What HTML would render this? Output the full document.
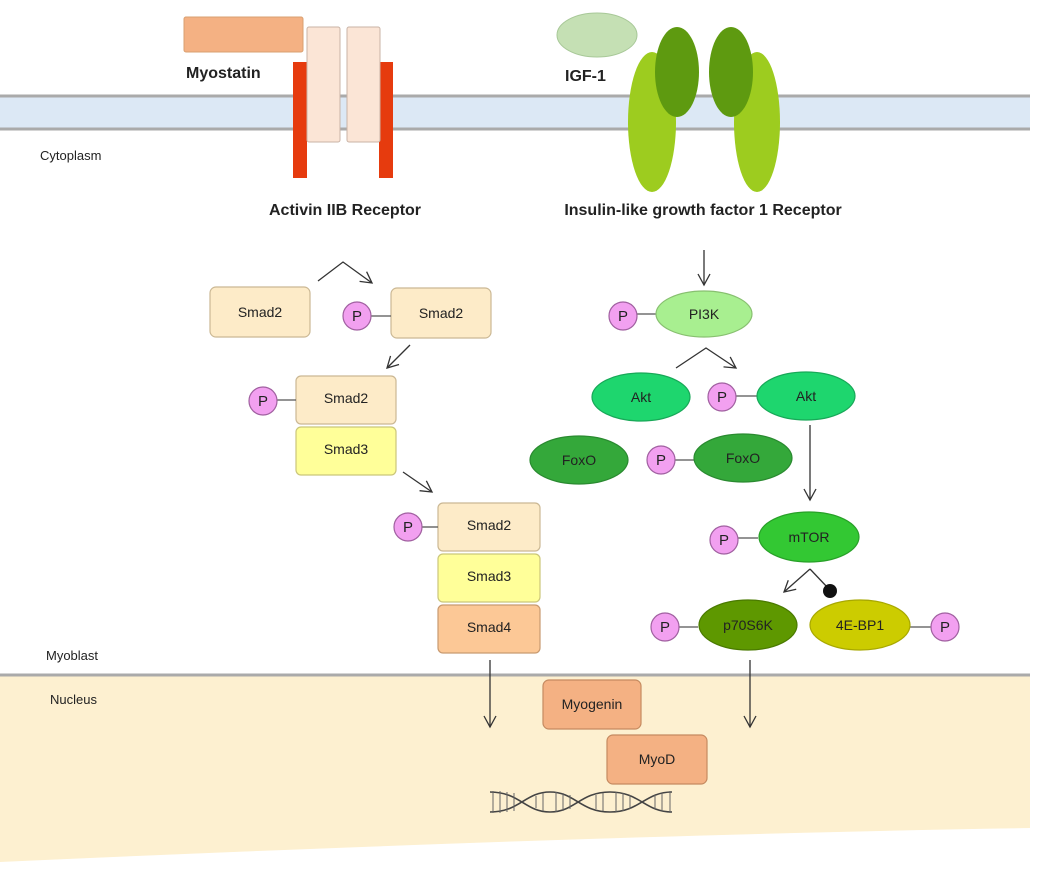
<!DOCTYPE html>
<html><head><meta charset="utf-8"><style>
html,body{margin:0;padding:0;background:#fff}
svg{display:block;font-family:"Liberation Sans",Arial,sans-serif}
</style></head><body>
<svg width="1045" height="878" viewBox="0 0 1045 878" xmlns="http://www.w3.org/2000/svg">
<defs>
<marker id="ah" markerWidth="14" markerHeight="14" refX="12" refY="7" orient="auto" markerUnits="userSpaceOnUse">
<path d="M1,1 L12,7 L1,13" fill="none" stroke="#333" stroke-width="1.3"/></marker>
</defs>
<!-- nucleus -->
<path d="M0,675 L1030,675 L1030,828 Q600,835 0,862 Z" fill="#fdf0d0"/>
<line x1="0" y1="675" x2="1030" y2="675" stroke="#aaa" stroke-width="3"/>
<!-- membrane -->
<rect x="0" y="96" width="1030" height="33" fill="#dce8f5"/>
<line x1="0" y1="96" x2="1030" y2="96" stroke="#aaa" stroke-width="3"/>
<line x1="0" y1="129" x2="1030" y2="129" stroke="#aaa" stroke-width="3"/>
<text x="40" y="160" font-size="13" fill="#222">Cytoplasm</text>
<text x="46" y="660" font-size="13" fill="#222">Myoblast</text>
<text x="50" y="704" font-size="13" fill="#222">Nucleus</text>
<!-- myostatin -->
<rect x="184" y="17" width="119" height="35" rx="2" fill="#f4b183" stroke="#d9a070"/>
<text x="186" y="78" font-size="16" font-weight="bold" fill="#222">Myostatin</text>
<rect x="293" y="62" width="14" height="116" fill="#e63b0e"/>
<rect x="379" y="62" width="14" height="116" fill="#e63b0e"/>
<rect x="307" y="27" width="33" height="115" rx="2" fill="#fbe5d6" stroke="#c9b3a6"/>
<rect x="347" y="27" width="33" height="115" rx="2" fill="#fbe5d6" stroke="#c9b3a6"/>
<text x="345" y="215" font-size="16" font-weight="bold" fill="#222" text-anchor="middle">Activin IIB Receptor</text>
<!-- IGF -->
<ellipse cx="597" cy="35" rx="40" ry="22" fill="#c5e0b4" stroke="#a8c898"/>
<text x="565" y="81" font-size="16" font-weight="bold" fill="#222">IGF-1</text>
<ellipse cx="652" cy="122" rx="24" ry="70" fill="#9dcc1f"/>
<ellipse cx="757" cy="122" rx="23" ry="70" fill="#9dcc1f"/>
<ellipse cx="677" cy="72" rx="22" ry="45" fill="#5e9a10"/>
<ellipse cx="731" cy="72" rx="22" ry="45" fill="#5e9a10"/>
<text x="703" y="215" font-size="16" font-weight="bold" fill="#222" text-anchor="middle">Insulin-like growth factor 1 Receptor</text>
<!-- smad path -->
<g stroke="#333" stroke-width="1.3" fill="none">
<polyline points="318,281 343,262 372,283" marker-end="url(#ah)"/>
<line x1="410" y1="345" x2="387" y2="368" marker-end="url(#ah)"/>
<line x1="403" y1="472" x2="432" y2="492" marker-end="url(#ah)"/>
<line x1="490" y1="660" x2="490" y2="727" marker-end="url(#ah)"/>
<line x1="750" y1="660" x2="750" y2="727" marker-end="url(#ah)"/>
<line x1="704" y1="250" x2="704" y2="285" marker-end="url(#ah)"/>
<polyline points="676,368 706,348 736,368" marker-end="url(#ah)"/>
<line x1="810" y1="425" x2="810" y2="500" marker-end="url(#ah)"/>
<polyline points="810,569 784,592" marker-end="url(#ah)"/>
<line x1="810" y1="569" x2="828" y2="588"/>
</g>
<circle cx="830" cy="591" r="7" fill="#111"/>
<g font-size="14" fill="#222" text-anchor="middle" stroke-width="1.2">
<rect x="210" y="287" width="100" height="50" rx="6" fill="#fdebc8" stroke="#cbb894"/><text x="260" y="317">Smad2</text>
<rect x="391" y="288" width="100" height="50" rx="6" fill="#fdebc8" stroke="#cbb894"/><text x="441" y="318">Smad2</text>
<rect x="296" y="376" width="100" height="48" rx="5" fill="#fdebc8" stroke="#cbb894"/><text x="346" y="403">Smad2</text>
<rect x="296" y="427" width="100" height="48" rx="5" fill="#ffff99" stroke="#cbc67a"/><text x="346" y="454">Smad3</text>
<rect x="438" y="503" width="102" height="48" rx="5" fill="#fdebc8" stroke="#cbb894"/><text x="489" y="530">Smad2</text>
<rect x="438" y="554" width="102" height="48" rx="5" fill="#ffff99" stroke="#cbc67a"/><text x="489" y="581">Smad3</text>
<rect x="438" y="605" width="102" height="48" rx="5" fill="#fcc896" stroke="#c89a70"/><text x="489" y="632">Smad4</text>
<rect x="543" y="680" width="98" height="49" rx="6" fill="#f4b183" stroke="#c58a60"/><text x="592" y="709">Myogenin</text>
<rect x="607" y="735" width="100" height="49" rx="6" fill="#f4b183" stroke="#c58a60"/><text x="657" y="764">MyoD</text>
</g>
<!-- P circles -->
<g stroke="#555" stroke-width="1.3">
<line x1="371" y1="316" x2="391" y2="316"/><line x1="277" y1="400" x2="296" y2="400"/><line x1="422" y1="527" x2="438" y2="527"/>
<line x1="637" y1="314" x2="656" y2="314"/><line x1="736" y1="396" x2="757" y2="396"/><line x1="675" y1="460" x2="694" y2="460"/>
<line x1="738" y1="538" x2="758" y2="538"/><line x1="679" y1="627" x2="698" y2="627"/><line x1="910" y1="627" x2="932" y2="627"/>
</g>
<g fill="#f2a0f0" stroke="#a060a0" stroke-width="1.2">
<circle cx="357" cy="316" r="14"/><circle cx="263" cy="401" r="14"/><circle cx="408" cy="527" r="14"/>
<circle cx="623" cy="316" r="14"/><circle cx="722" cy="397" r="14"/><circle cx="661" cy="460" r="14"/>
<circle cx="724" cy="540" r="14"/><circle cx="665" cy="627" r="14"/><circle cx="945" cy="627" r="14"/>
</g>
<g font-size="15" fill="#222" text-anchor="middle">
<text x="357" y="321">P</text><text x="263" y="406">P</text><text x="408" y="532">P</text>
<text x="623" y="321">P</text><text x="722" y="402">P</text><text x="661" y="465">P</text>
<text x="724" y="545">P</text><text x="665" y="632">P</text><text x="945" y="632">P</text>
</g>
<!-- ellipses -->
<g stroke-width="1.2">
<ellipse cx="704" cy="314" rx="48" ry="23" fill="#a8ef90" stroke="#88c070"/>
<ellipse cx="641" cy="397" rx="49" ry="24" fill="#1ed66e" stroke="#18a858"/>
<ellipse cx="806" cy="396" rx="49" ry="24" fill="#1ed66e" stroke="#18a858"/>
<ellipse cx="579" cy="460" rx="49" ry="24" fill="#34a83a" stroke="#2a8a30"/>
<ellipse cx="743" cy="458" rx="49" ry="24" fill="#34a83a" stroke="#2a8a30"/>
<ellipse cx="809" cy="537" rx="50" ry="25" fill="#33c833" stroke="#28a028"/>
<ellipse cx="748" cy="625" rx="49" ry="25" fill="#5e9800" stroke="#4a7a00"/>
<ellipse cx="860" cy="625" rx="50" ry="25" fill="#cccc00" stroke="#a8a800"/>
</g>
<g font-size="14" fill="#222" text-anchor="middle">
<text x="704" y="319">PI3K</text><text x="641" y="402">Akt</text><text x="806" y="401">Akt</text>
<text x="579" y="465">FoxO</text><text x="743" y="463">FoxO</text><text x="809" y="542">mTOR</text>
<text x="748" y="630">p70S6K</text><text x="860" y="630">4E-BP1</text>
</g>
<!-- DNA -->
<g stroke="#444" stroke-width="1.6" fill="none">
<path d="M490,792 C520,792 525,812 550,812 C575,812 580,792 610,792 C640,792 645,812 672,812"/>
<path d="M490,812 C520,812 525,792 550,792 C575,792 580,812 610,812 C640,812 645,792 672,792"/>
</g>
<g stroke="#666" stroke-width="1">
<line x1="493" y1="791" x2="493" y2="813"/><line x1="500" y1="791" x2="500" y2="813"/><line x1="507" y1="792" x2="507" y2="812"/><line x1="514" y1="793" x2="514" y2="811"/>
<line x1="536" y1="796" x2="536" y2="808"/><line x1="543" y1="793" x2="543" y2="811"/><line x1="556" y1="792" x2="556" y2="812"/><line x1="563" y1="793" x2="563" y2="811"/><line x1="570" y1="795" x2="570" y2="809"/>
<line x1="596" y1="795" x2="596" y2="809"/><line x1="603" y1="793" x2="603" y2="811"/><line x1="616" y1="792" x2="616" y2="812"/><line x1="623" y1="793" x2="623" y2="811"/><line x1="630" y1="795" x2="630" y2="809"/>
<line x1="655" y1="795" x2="655" y2="809"/><line x1="662" y1="793" x2="662" y2="811"/><line x1="670" y1="791" x2="670" y2="813"/>
</g>
</svg>
</body></html>
